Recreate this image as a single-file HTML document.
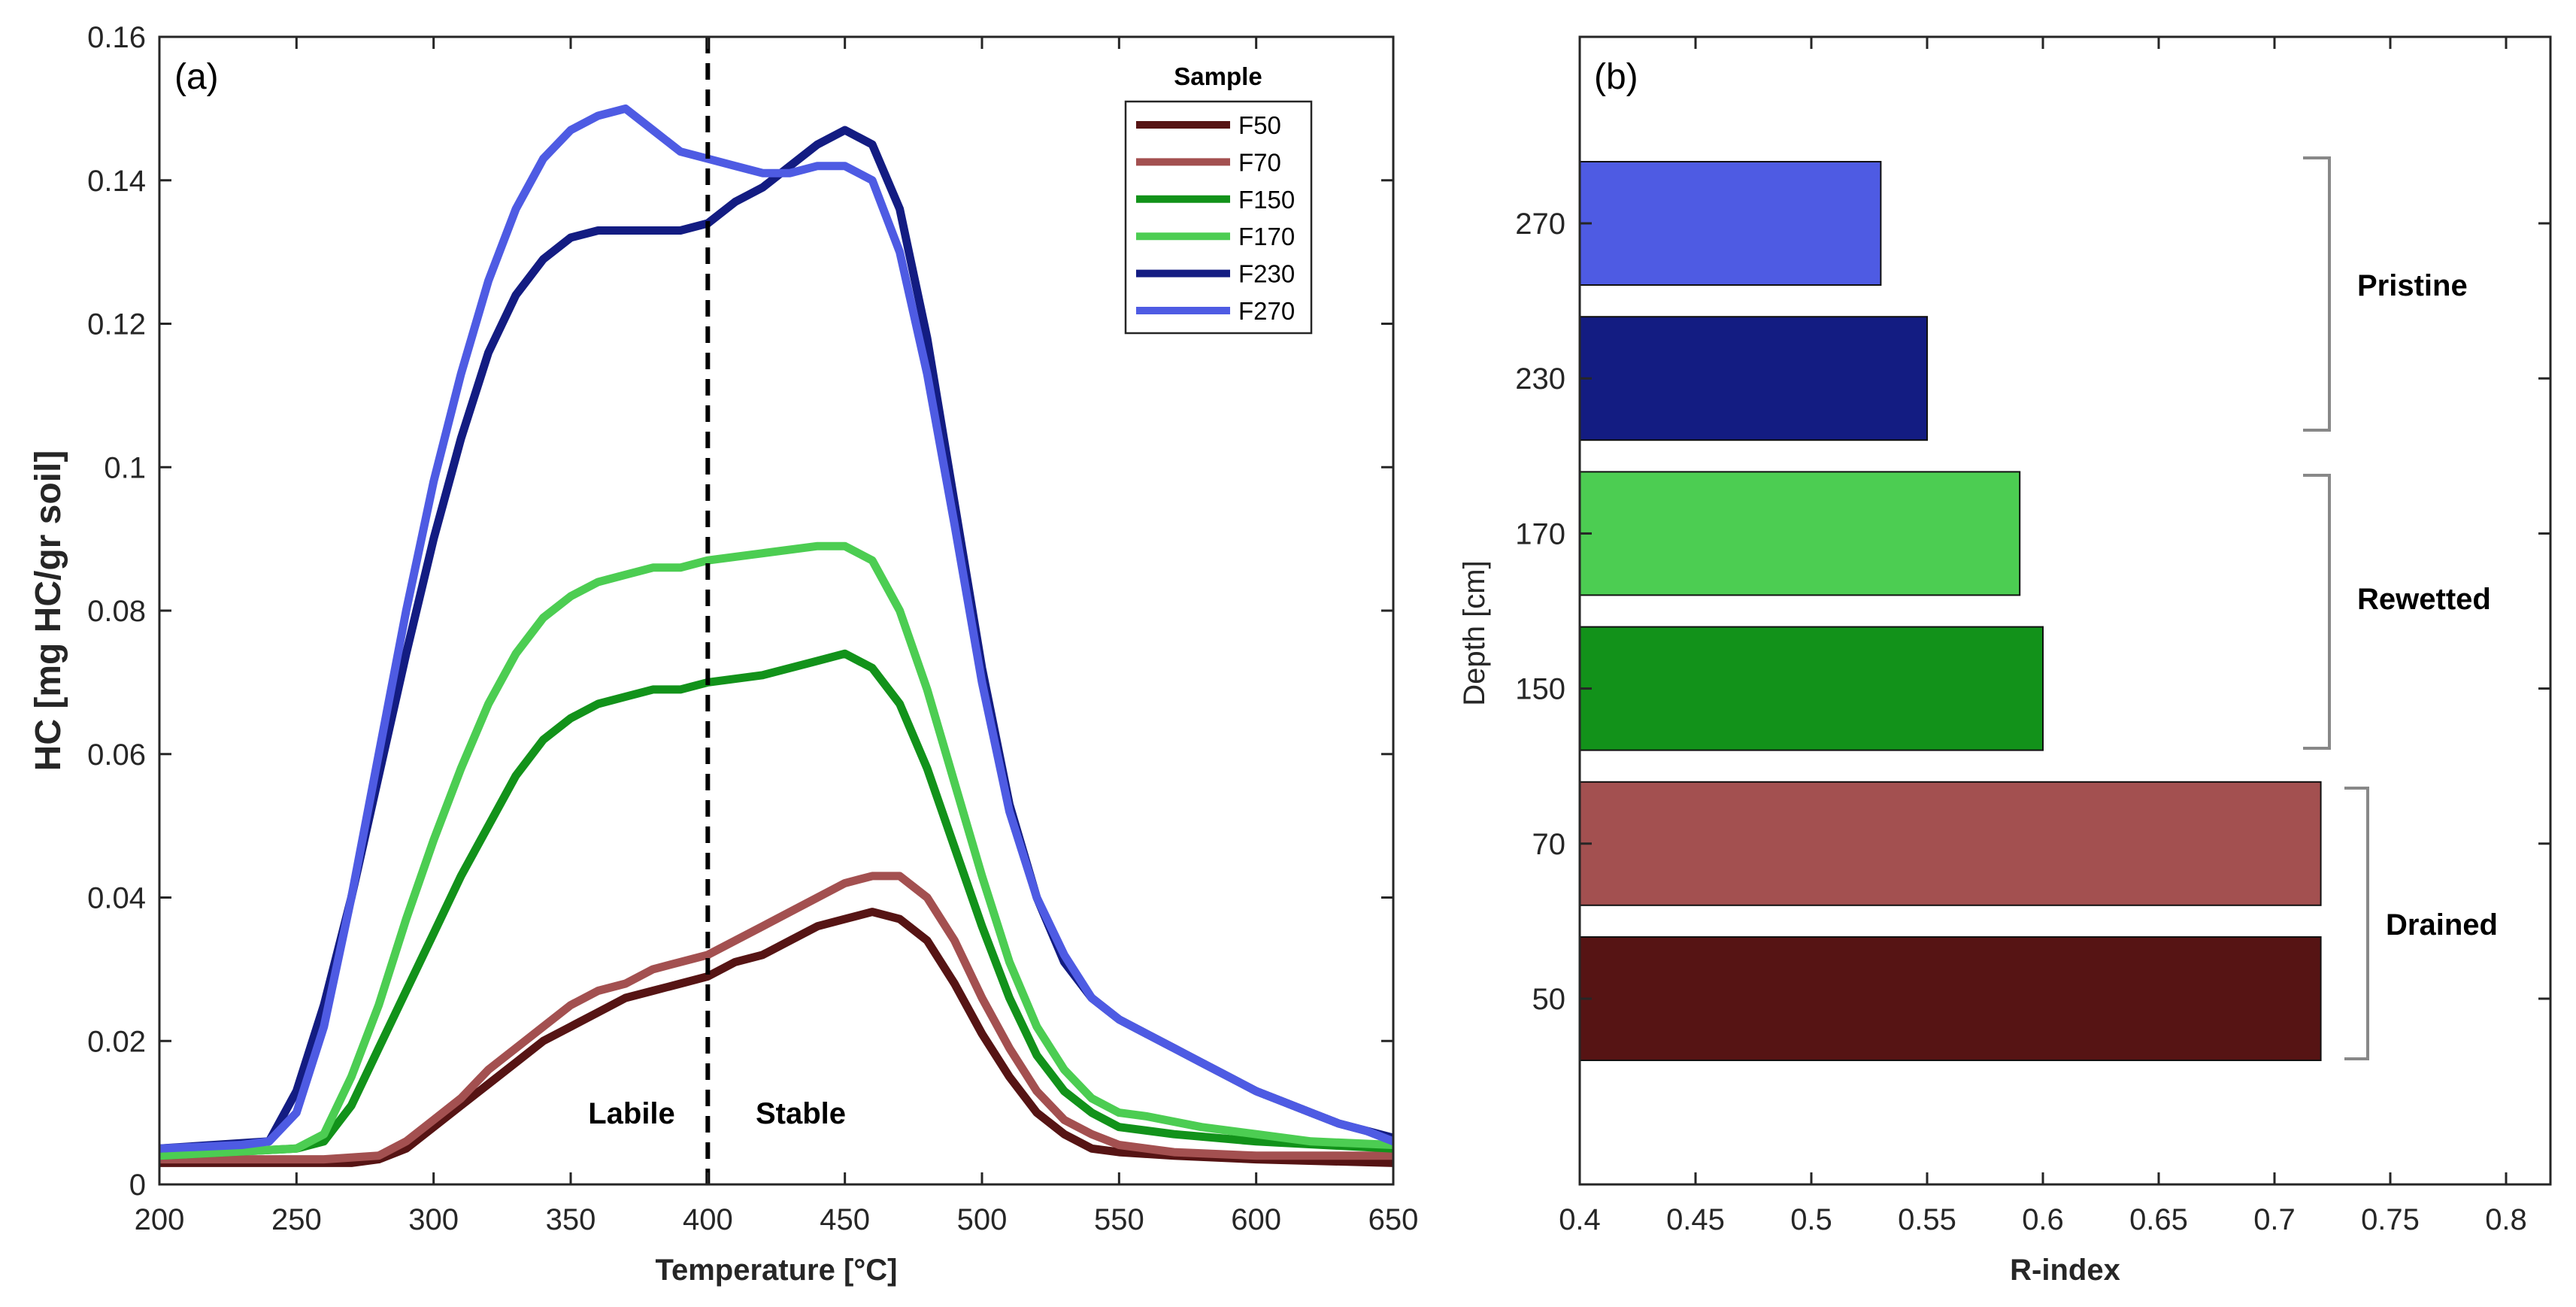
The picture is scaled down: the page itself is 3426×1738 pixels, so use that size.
<!DOCTYPE html>
<html><head><meta charset="utf-8"><style>
html,body{margin:0;padding:0;background:#fff;}
svg{display:block;font-family:"Liberation Sans",Arial,sans-serif;}
</style></head><body>
<svg id="fig" width="3426" height="1738" viewBox="0 0 3426 1738" xmlns="http://www.w3.org/2000/svg">
<rect width="3426" height="1738" fill="#fff"/>
<g id="pa"></g>
<g id="pb"></g>
</svg>
<script>
// ---------- Panel (a) data ----------
const seriesNames = ["F50","F70","F150","F170","F230","F270"];
const seriesColors = ["#561414","#a35050","#12921a","#4ccd52","#131c82","#4e5be3"];
const tF50 = [200,270,280,290,300,310,320,330,340,350,360,370,380,390,400,410,420,430,440,450,460,470,480,490,500,510,520,530,540,550,570,600,650];
const vF50 = [0.003,0.003,0.0035,0.005,0.008,0.011,0.014,0.017,0.020,0.022,0.024,0.026,0.027,0.028,0.029,0.031,0.032,0.034,0.036,0.037,0.038,0.037,0.034,0.028,0.021,0.015,0.010,0.007,0.005,0.0045,0.004,0.0035,0.003];
const tF70 = [200,260,280,290,300,310,320,330,340,350,360,370,380,390,400,410,420,430,440,450,460,470,480,490,500,510,520,530,540,550,570,600,650];
const vF70 = [0.0035,0.0035,0.004,0.006,0.009,0.012,0.016,0.019,0.022,0.025,0.027,0.028,0.030,0.031,0.032,0.034,0.036,0.038,0.040,0.042,0.043,0.043,0.040,0.034,0.026,0.019,0.013,0.009,0.007,0.0055,0.0045,0.004,0.004];
const tF150 = [200,250,260,270,280,290,300,310,320,330,340,350,360,370,380,390,400,420,440,450,460,470,480,490,500,510,520,530,540,550,570,600,650];
const vF150 = [0.004,0.005,0.006,0.011,0.019,0.027,0.035,0.043,0.050,0.057,0.062,0.065,0.067,0.068,0.069,0.069,0.070,0.071,0.073,0.074,0.072,0.067,0.058,0.047,0.036,0.026,0.018,0.013,0.010,0.008,0.007,0.006,0.005];
const tF170 = [200,250,260,270,280,290,300,310,320,330,340,350,360,370,380,390,400,420,440,450,460,470,480,490,500,510,520,530,540,550,560,580,600,620,650];
const vF170 = [0.004,0.005,0.007,0.015,0.025,0.037,0.048,0.058,0.067,0.074,0.079,0.082,0.084,0.085,0.086,0.086,0.087,0.088,0.089,0.089,0.087,0.080,0.069,0.056,0.043,0.031,0.022,0.016,0.012,0.010,0.0095,0.008,0.007,0.006,0.0055];
const tF230 = [200,240,250,260,270,280,290,300,310,320,330,340,350,360,370,380,390,400,410,420,430,440,450,460,470,480,490,500,510,520,530,540,550,560,570,580,590,600,610,620,630,640,650];
const vF230 = [0.005,0.006,0.013,0.025,0.040,0.057,0.074,0.090,0.104,0.116,0.124,0.129,0.132,0.133,0.133,0.133,0.133,0.134,0.137,0.139,0.142,0.145,0.147,0.145,0.136,0.118,0.095,0.072,0.053,0.040,0.031,0.026,0.023,0.021,0.019,0.017,0.015,0.013,0.0115,0.010,0.0085,0.0075,0.0065];
const tF270 = [200,230,240,250,260,270,280,290,300,310,320,330,340,350,360,370,380,390,400,410,420,430,440,450,460,470,480,490,500,510,520,530,540,550,560,570,580,590,600,610,620,630,640,650];
const vF270 = [0.005,0.0055,0.006,0.010,0.022,0.040,0.060,0.080,0.098,0.113,0.126,0.136,0.143,0.147,0.149,0.150,0.147,0.144,0.143,0.142,0.141,0.141,0.142,0.142,0.140,0.130,0.113,0.092,0.070,0.052,0.040,0.032,0.026,0.023,0.021,0.019,0.017,0.015,0.013,0.0115,0.010,0.0085,0.0075,0.006];
const xTicksA = [200,250,300,350,400,450,500,550,600,650];
const yTicksA = [0,0.02,0.04,0.06,0.08,0.1,0.12,0.14,0.16];
const yTickLabelsA = ["0","0.02","0.04","0.06","0.08","0.1","0.12","0.14","0.16"];
const boundaryTemp = 400;

// ---------- Panel (b) data ----------
const depths = ["50","70","150","170","230","270"];
const rIndex = [0.72,0.72,0.60,0.59,0.55,0.53];
const barColors = ["#561414","#a35050","#12921a","#4ccd52","#131c82","#4e5be3"];
const xTicksB = [0.4,0.45,0.5,0.55,0.6,0.65,0.7,0.75,0.8];
const xTickLabelsB = ["0.4","0.45","0.5","0.55","0.6","0.65","0.7","0.75","0.8"];
const groupNames = ["Drained","Rewetted","Pristine"];

const NS="http://www.w3.org/2000/svg";
function mk(parent,tag,attrs,text){const e=document.createElementNS(NS,tag);for(const k in attrs)e.setAttribute(k,attrs[k]);if(text!==undefined)e.textContent=text;parent.appendChild(e);return e;}

// ===== Panel a =====
const pa=document.getElementById('pa');
const AL=212,AR=1853,AT=49,AB=1575;
const xA=t=>AL+(t-200)/(650-200)*(AR-AL);
const yA=v=>AB-(v/0.16)*(AB-AT);
const allT=[tF50,tF70,tF150,tF170,tF230,tF270];
const allV=[vF50,vF70,vF150,vF170,vF230,vF270];
const clip=mk(pa,'clipPath',{id:'clipA'});
mk(clip,'rect',{x:AL,y:AT,width:AR-AL,height:AB-AT});
for(let s=0;s<6;s++){
  const d=allT[s].map((t,i)=>(i?'L':'M')+xA(t).toFixed(1)+','+yA(allV[s][i]).toFixed(1)).join(' ');
  const p=mk(pa,'path',{d:d,fill:'none',stroke:seriesColors[s],'stroke-width':11,'stroke-linejoin':'round','stroke-linecap':'round','clip-path':'url(#clipA)'});
  
  
}
const dl=mk(pa,'line',{x1:xA(boundaryTemp),x2:xA(boundaryTemp),y1:AT,y2:AB,stroke:'#000','stroke-width':6,'stroke-dasharray':'22,13'});


const boxA=mk(pa,'rect',{x:AL,y:AT,width:AR-AL,height:AB-AT,fill:'none',stroke:'#262626','stroke-width':3});


xTicksA.forEach(t=>{
  const x=xA(t);
  mk(pa,'line',{x1:x,x2:x,y1:AB,y2:AB-16,stroke:'#262626','stroke-width':3});
  mk(pa,'line',{x1:x,x2:x,y1:AT,y2:AT+16,stroke:'#262626','stroke-width':3});
  const l=mk(pa,'text',{x:x,y:1635,'font-size':40,'text-anchor':'middle',fill:'#262626'},String(t));
  
  
});
yTicksA.forEach((v,i)=>{
  const y=yA(v);
  mk(pa,'line',{x1:AL,x2:AL+16,y1:y,y2:y,stroke:'#262626','stroke-width':3});
  mk(pa,'line',{x1:AR,x2:AR-16,y1:y,y2:y,stroke:'#262626','stroke-width':3});
  const l=mk(pa,'text',{x:194,y:y+14,'font-size':40,'text-anchor':'end',fill:'#262626'},yTickLabelsA[i]);
  
  
});
let t;
t=mk(pa,'text',{x:(AL+AR)/2,y:1702,'font-size':40,'font-weight':'bold','text-anchor':'middle',fill:'#262626'},'Temperature [°C]');

t=mk(pa,'text',{x:0,y:0,'font-size':48,'font-weight':'bold','text-anchor':'middle',fill:'#262626',transform:'translate(80,812) rotate(-90)'},'HC [mg HC/gr soil]');

t=mk(pa,'text',{x:232,y:118,'font-size':48,fill:'#000'},'(a)');

t=mk(pa,'text',{x:840,y:1494,'font-size':40,'font-weight':'bold','text-anchor':'middle',fill:'#000'},'Labile');

t=mk(pa,'text',{x:1065,y:1494,'font-size':40,'font-weight':'bold','text-anchor':'middle',fill:'#000'},'Stable');

// legend
const lg=mk(pa,'g',{});

t=mk(lg,'text',{x:1620,y:113,'font-size':33,'font-weight':'bold','text-anchor':'middle',fill:'#000'},'Sample');

mk(lg,'rect',{x:1497,y:135,width:247,height:308,fill:'#fff',stroke:'#262626','stroke-width':2.5});
seriesNames.forEach((n,i)=>{
  const y=166+i*49.4;
  const e=mk(lg,'g',{});
  
  
  mk(e,'line',{x1:1511,x2:1636,y1:y,y2:y,stroke:seriesColors[i],'stroke-width':10});
  mk(e,'text',{x:1647,y:y+12,'font-size':33,fill:'#000'},n);
});

// ===== Panel b =====
const pb=document.getElementById('pb');
const BL=2101,BR=3392,BT=49,BB=1575;
const xB=v=>BL+(v-0.4)/0.05*154;
const yB=i=>1328-i*206.2;
const clipB=mk(pb,'clipPath',{id:'clipB'});
mk(clipB,'rect',{x:BL,y:BT,width:BR-BL,height:BB-BT});
depths.forEach((d,i)=>{
  const r=mk(pb,'rect',{x:BL,y:yB(i)-82,width:xB(rIndex[i])-BL,height:164,fill:barColors[i],stroke:'#111','stroke-width':2,'clip-path':'url(#clipB)'});
  
  
});
const boxB=mk(pb,'rect',{x:BL,y:BT,width:BR-BL,height:BB-BT,fill:'none',stroke:'#262626','stroke-width':3});


xTicksB.forEach((v,i)=>{
  const x=xB(v);
  mk(pb,'line',{x1:x,x2:x,y1:BB,y2:BB-16,stroke:'#262626','stroke-width':3});
  mk(pb,'line',{x1:x,x2:x,y1:BT,y2:BT+16,stroke:'#262626','stroke-width':3});
  const l=mk(pb,'text',{x:x,y:1635,'font-size':40,'text-anchor':'middle',fill:'#262626'},xTickLabelsB[i]);
  
  
});
depths.forEach((d,i)=>{
  const y=yB(i);
  mk(pb,'line',{x1:BL,x2:BL+16,y1:y,y2:y,stroke:'#262626','stroke-width':3});
  mk(pb,'line',{x1:BR,x2:BR-16,y1:y,y2:y,stroke:'#262626','stroke-width':3});
  const l=mk(pb,'text',{x:2082,y:y+14,'font-size':40,'text-anchor':'end',fill:'#262626'},d);
  
  
});
t=mk(pb,'text',{x:(BL+BR)/2,y:1702,'font-size':40,'font-weight':'bold','text-anchor':'middle',fill:'#262626'},'R-index');

t=mk(pb,'text',{x:0,y:0,'font-size':40,'text-anchor':'middle',fill:'#262626',transform:'translate(1974,842) rotate(-90)'},'Depth [cm]');

t=mk(pb,'text',{x:2120,y:118,'font-size':48,fill:'#000'},'(b)');

// brackets
const brackets=[[3118,3149,1048,1408,3173,1229],[3063,3098,632,995,3135,796],[3063,3098,210,572,3135,379]];
brackets.forEach((b,i)=>{
  const g=mk(pb,'g',{});
  
  
  mk(g,'path',{d:`M${b[0]},${b[2]} H${b[1]} V${b[3]} H${b[0]}`,fill:'none',stroke:'#888','stroke-width':4});
  mk(g,'text',{x:b[4],y:b[5]+14,'font-size':40,'font-weight':'bold',fill:'#000'},groupNames[i]);
});
</script>
</body></html>
